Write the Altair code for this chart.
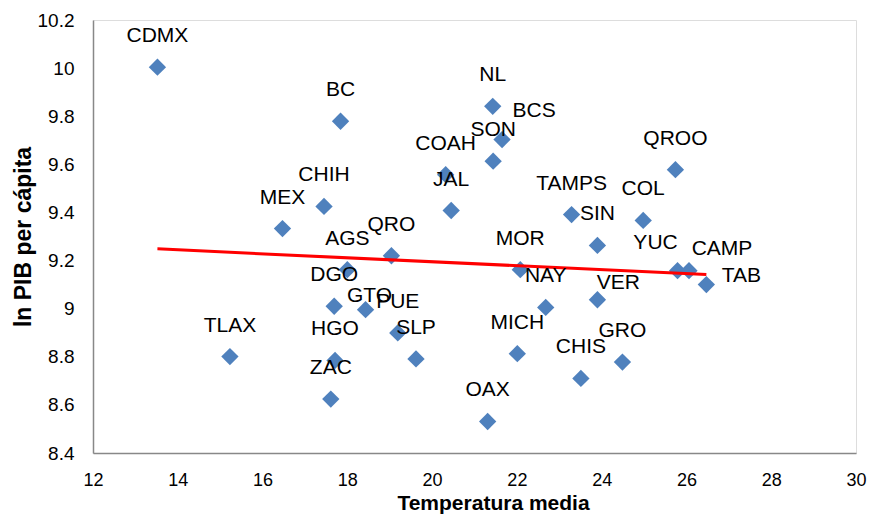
import altair as alt
import pandas as pd

states = ["CDMX", "BC", "NL", "BCS", "SON", "COAH", "JAL", "CHIH", "MEX", "QROO",
          "TAMPS", "COL", "SIN", "QRO", "AGS", "MOR", "YUC", "CAMP", "TAB", "NAY",
          "VER", "DGO", "GTO", "PUE", "SLP", "TLAX", "HGO", "ZAC", "MICH", "CHIS",
          "GRO", "OAX"]
temperatura = [13.52, 17.84, 21.43, 21.65, 21.44, 20.32, 20.45, 17.45, 16.47, 25.74,
               23.29, 24.98, 23.90, 19.04, 18.00, 22.08, 25.79, 26.06, 26.47, 22.68,
               23.90, 17.69, 18.43, 19.19, 19.62, 15.23, 17.71, 17.61, 22.01, 23.51,
               24.49, 21.31]
ln_pib = [10.004, 9.779, 9.841, 9.703, 9.613, 9.557, 9.408, 9.425, 9.333, 9.578,
          9.391, 9.367, 9.263, 9.220, 9.162, 9.162, 9.158, 9.158, 9.100, 9.005,
          9.037, 9.010, 8.996, 8.899, 8.791, 8.801, 8.785, 8.624, 8.813, 8.710,
          8.778, 8.531]

x_ticks = [12, 14, 16, 18, 20, 22, 24, 26, 28, 30]
y_ticks = [8.4, 8.6, 8.8, 9.0, 9.2, 9.4, 9.6, 9.8, 10.0, 10.2]

# label nudges (pixels) for labels that are not directly above their marker
label_nudge = {"BCS": (32, -29), "YUC": (-22, -28), "CAMP": (33, -22),
               "TAB": (35, -9), "VER": (21, -17), "GTO": (4, -14)}

df = pd.DataFrame({"estado": states, "temp": temperatura, "pib": ln_pib})

FONT = "Liberation Sans"
W, H = 763, 433

x = alt.X("temp:Q",
          scale=alt.Scale(domain=[12, 30], nice=False, zero=False),
          axis=alt.Axis(values=x_ticks, title="Temperatura media", grid=False,
                        ticks=False, tickSize=0, labelPadding=18, labelFlush=False,
                        domainColor="#888888", domainWidth=1.5,
                        labelFont=FONT, labelFontSize=18, labelColor="#000000",
                        titleFont=FONT, titleFontSize=21, titleFontWeight="bold",
                        titleColor="#000000", titleX=400, titleY=56,
                        titleBaseline="alphabetic", titleAlign="center"))
y = alt.Y("pib:Q",
          scale=alt.Scale(domain=[8.4, 10.2], nice=False, zero=False),
          axis=alt.Axis(values=y_ticks, title="ln PIB per cápita", grid=False,
                        ticks=False, tickSize=0, labelPadding=19, format=".1~f",
                        labelFlush=False,
                        domainColor="#888888", domainWidth=1.5,
                        labelFont=FONT, labelFontSize=19, labelColor="#000000",
                        titleFont=FONT, titleFontSize=23, titleFontWeight="bold",
                        titleColor="#000000", titleX=-70, titleY=H / 2,
                        titleBaseline="middle", titleAlign="center", titleAngle=-90))

base = alt.Chart(df)

points = base.mark_point(shape="diamond", filled=True, size=300, opacity=1,
                         color="#4F81BD").encode(x=x, y=y)

trend = base.transform_regression("temp", "pib").mark_line(
    color="#FF0000", strokeWidth=3).encode(x=x, y=y)

default_labels = base.transform_filter(
    ~alt.FieldOneOfPredicate(field="estado", oneOf=list(label_nudge.keys()))
).mark_text(font=FONT, fontSize=21, color="#000000", dy=-31,
            baseline="middle", align="center").encode(x=x, y=y, text="estado:N")

layers = [points, trend, default_labels]
for name, (ddx, ddy) in label_nudge.items():
    layers.append(
        base.transform_filter(alt.datum.estado == name).mark_text(
            font=FONT, fontSize=21, color="#000000", dx=ddx, dy=ddy,
            baseline="middle", align="center").encode(x=x, y=y, text="estado:N"))

chart = alt.layer(*layers).properties(
    width=W, height=H,
    autosize=alt.AutoSizeParams(type="none"),
    padding={"left": 93, "top": 20, "right": 17, "bottom": 63},
).configure_view(stroke=None).configure(background="#FFFFFF")

chart.save("out.html", embed_options={"renderer": "svg", "actions": False})
